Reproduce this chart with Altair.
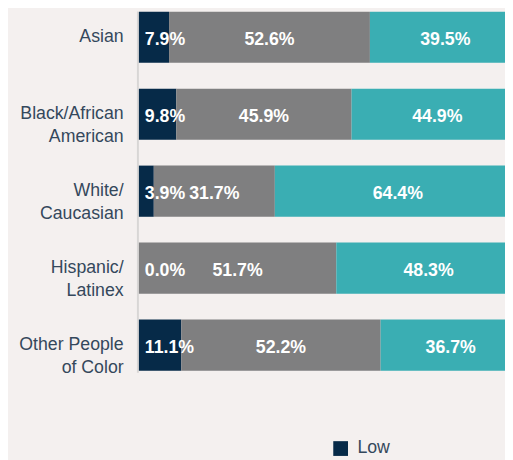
import altair as alt
import pandas as pd

categories = ["Asian", "Black/African|American", "White/|Caucasian", "Hispanic/|Latinex", "Other People|of Color"]
levels = ["Low", "Medium", "High"]
low = [7.9, 9.8, 3.9, 0.0, 11.1]
medium = [52.6, 45.9, 31.7, 51.7, 52.2]
high = [39.5, 44.9, 64.4, 48.3, 36.7]
colors = ["#062a48", "#7f7f80", "#3aaeb3"]

FONT = "Liberation Sans"
TEXT_COLOR = "#34485c"
BG = "#f4f0ef"

rows = []
for i, c in enumerate(categories):
    start = 0.0
    for k, vals in enumerate([low, medium, high]):
        v = vals[i]
        rows.append(dict(category=c, level=levels[k], order=k, start=start,
                         end=start + v, mid=start + v / 2, label=f"{v:.1f}%"))
        start += v
df = pd.DataFrame(rows)

x_scale = alt.Scale(domain=[0, 100], range=[0, 388])
y_scale = alt.Scale(domain=categories, paddingInner=0, paddingOuter=0)

base = alt.Chart(df)

bars = base.mark_bar(size=52).encode(
    y=alt.Y("category:N", scale=y_scale,
            axis=alt.Axis(title=None, domain=False, ticks=False, labelPadding=16,
                          labelExpr="split(datum.label, '|')", labelFontSize=18,
                          labelColor=TEXT_COLOR, labelFont=FONT, labelLineHeight=23,
                          labelLimit=200, grid=False)),
    x=alt.X("start:Q", scale=x_scale, axis=None),
    x2="end:Q",
    color=alt.Color("level:N", scale=alt.Scale(domain=levels, range=colors),
                    legend=alt.Legend(title=None, orient="none", legendX=196, legendY=448,
                                      values=["Low"], symbolType="square",
                                      symbolSize=225, symbolStrokeWidth=0,
                                      labelFontSize=18, labelFont=FONT,
                                      labelColor=TEXT_COLOR, padding=0, labelOffset=8)),
    order="order:Q",
)

low_text = base.transform_filter("datum.level == 'Low'").mark_text(
    align="left", dx=6, dy=3, baseline="middle", font=FONT, fontSize=18,
    fontWeight="bold", color="white"
).encode(x="start:Q", y="category:N", text="label:N")

other_text = base.transform_filter("datum.level != 'Low'").mark_text(
    align="center", dy=3, baseline="middle", font=FONT, fontSize=18,
    fontWeight="bold", color="white"
).encode(x="mid:Q", y="category:N", text="label:N")

rule = alt.Chart(pd.DataFrame({"a": [0]})).mark_rule(color="#d8d6d5", strokeWidth=2).encode(
    x=alt.value(-1), y=alt.value(13), y2=alt.value(380)
)

chart = alt.layer(rule, bars, low_text, other_text).properties(
    width=372, height=391,
    autosize=alt.AutoSizeParams(type="none"),
    padding={"left": 133, "top": -13, "right": 0, "bottom": 74},
    background=BG,
).configure_view(strokeWidth=0)

chart.save("out.html", embed_options={"renderer": "svg", "actions": False})
